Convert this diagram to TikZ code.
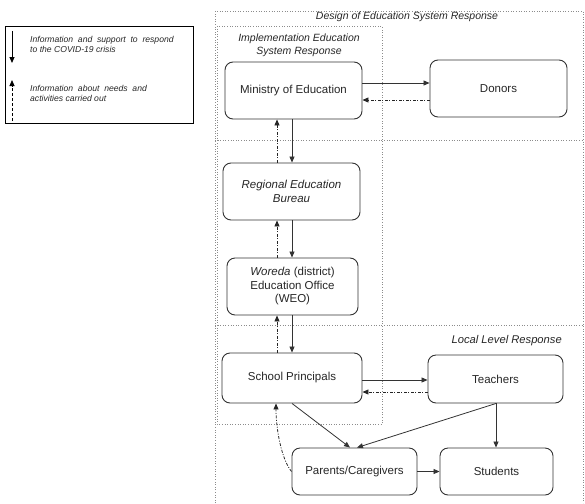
\documentclass[tikz,border=0pt]{standalone}
\usepackage{fontspec}
\setmainfont{Liberation Sans}
\usetikzlibrary{arrows.meta}
\begin{document}
\begin{tikzpicture}[x=1pt,y=-1pt,
  box/.style={draw=black!80,line width=0.9pt,rounded corners=8pt,align=center,font=\fontsize{11.5}{13.5}\selectfont,inner sep=2pt,text=black!85},
  region/.style={draw=black!45,line width=0.6pt,dotted},
  fwd/.style={draw=black!80,line width=0.8pt,-{Triangle[length=6pt,width=5pt]}},
  back/.style={draw=black!85,line width=0.8pt,dash pattern=on 3pt off 1.5pt on 1pt off 1.5pt,-{Triangle[length=6pt,width=5pt]}},
  lbl/.style={font=\fontsize{10.5}{13}\selectfont\itshape,inner sep=0pt,align=center,text=black!85},
  leg/.style={font=\fontsize{8.6}{10.5}\selectfont\itshape,inner sep=0pt,align=left,anchor=west,text=black!85}
]
\useasboundingbox (0,0) rectangle (585,503);
% regions
\draw[region] (215,503) -- (215,11) -- (583,11) -- (583,503);
\draw[region] (215,140) -- (583,140);
\draw[region] (215,325) -- (583,325);
\draw[region] (217,26) rectangle (382,424);
\node[lbl] (ldesign) at (407,17) {Design of Education System Response};
\node[lbl] (limpl) at (299,45) {Implementation Education\\System Response};
\node[lbl,anchor=east,font=\fontsize{11.2}{13}\selectfont\itshape] (llocal) at (562,341) {Local Level Response};
% legend
\node[draw=black,line width=0.9pt,minimum width=188pt,minimum height=97pt,inner sep=0pt] (legbox) at (99,74.5) {};
\coordinate (la1) at (12,31);
\coordinate (la2) at (12,63);
\coordinate (lb1) at (12,121);
\coordinate (lb2) at (12,80);
\draw[fwd,draw=black] (la1) -- (la2);
\draw[black,line width=0.8pt,densely dashed,-{Triangle[length=6pt,width=5pt]}] (lb1) -- (lb2);
\node[leg] (legt1) at (30,44.5) {Information \ and \ support \ to \ respond\\to the COVID-19 crisis};
\node[leg] (legt2) at (30,93.5) {Information \ about \ needs \ and\\activities carried out};
% nodes
\node[box,minimum width=137pt,minimum height=57pt] (min) at (293.5,90.5) {Ministry of Education};
\node[box,minimum width=137pt,minimum height=57pt] (don) at (498.5,88.5) {Donors};
\node[box,minimum width=137pt,minimum height=57pt] (reg) at (291.5,191.5) {\itshape Regional Education\\\itshape Bureau};
\node[box,minimum width=131pt,minimum height=57pt] (wor) at (292.5,286.5) {\itshape Woreda\upshape{} (district)\\Education Office\\(WEO)};
\node[box,minimum width=140pt,minimum height=50pt] (sch) at (292,378) {School Principals};
\node[box,minimum width=135pt,minimum height=48pt] (tea) at (495.5,379) {Teachers};
\node[box,minimum width=125pt,minimum height=47pt] (par) at (354.5,471.5) {Parents/Caregivers};
\node[box,minimum width=113pt,minimum height=47pt] (stu) at (496.5,471.5) {Students};
% helper coordinates
\coordinate (vs) at (292,0);
\coordinate (vd) at (277,0);
\coordinate (h1) at (0,83);
\coordinate (h2) at (0,100);
\coordinate (h3) at (0,380);
\coordinate (h4) at (0,392);
\coordinate (pt1) at (350,0);
\coordinate (pt2) at (357,0);
\coordinate (ts) at (496,0);
\coordinate (sd) at (276,0);
% connectors
\draw[fwd] (min.east |- h1) -- (don.west |- h1);
\draw[back] (don.west |- h2) -- (min.east |- h2);
\draw[fwd] (vs |- min.south) -- (vs |- reg.north);
\draw[back] (vd |- reg.north) -- (vd |- min.south);
\draw[fwd] (vs |- reg.south) -- (vs |- wor.north);
\draw[back] (vd |- wor.north) -- (vd |- reg.south);
\draw[fwd] (vs |- wor.south) -- (vs |- sch.north);
\draw[back] (vd |- sch.north) -- (vd |- wor.south);
\draw[fwd] (sch.east |- h3) -- (tea.west |- h3);
\draw[back] (tea.west |- h4) -- (sch.east |- h4);
\draw[fwd] (vs |- sch.south) -- (pt1 |- par.north);
\draw[fwd] (ts |- tea.south) -- (pt2 |- par.north);
\draw[fwd] (ts |- tea.south) -- (ts |- stu.north);
\draw[fwd] (par.east) -- (stu.west);
\draw[back] (par.west) .. controls +(-10,-12) and +(0,26) .. (sd |- sch.south);
\end{tikzpicture}
\end{document}
